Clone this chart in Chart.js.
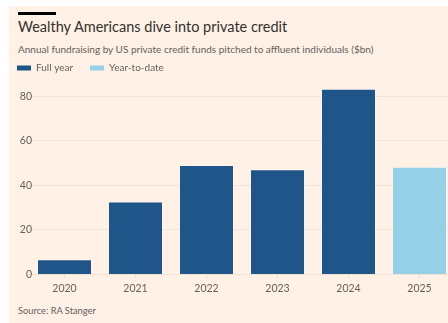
<!DOCTYPE html>
<html>
<head>
<meta charset="utf-8">
<script src="https://cdn.jsdelivr.net/npm/chart.js@4"></script>
<style>
  html, body { margin: 0; padding: 0; background: #fff; overflow: hidden; width: 448px; height: 323px; }
  #panel { position: absolute; left: 9px; top: 6px; width: 460px; height: 317px; background: #fff1e5; }
  #bar { position: absolute; left: 18px; top: 12px; width: 38px; height: 3px; background: #000; }
  #title { position: absolute; left: 18px; top: 18px; font: 14.5px Lato, sans-serif; color: #33302e; white-space: nowrap; }
  #subtitle { position: absolute; left: 18px; top: 43px; font: 10px Lato, sans-serif; color: #66605c; white-space: nowrap; }
  #source { position: absolute; left: 18px; top: 305px; font: 9.3px Lato, sans-serif; color: #66605c; white-space: nowrap; }
  #wrap { position: absolute; left: 0; top: 46px; width: 455px; height: 253px; }
</style>
</head>
<body>
<div id="panel"></div>
<div id="bar"></div>
<div id="title">Wealthy Americans dive into private credit</div>
<div id="subtitle">Annual fundraising by US private credit funds pitched to affluent individuals ($bn)</div>
<div id="wrap"><canvas id="chart"></canvas></div>
<div id="source">Source: RA Stanger</div>
<script>
// fundraising, $bn
const years = ['2020', '2021', '2022', '2023', '2024', '2025']
const fullYear = [6.8, 32.7, 49.1, 47.3, 83.4, null]
const yearToDate = [null, null, null, null, null, 48.4]
const yTicks = [0, 20, 40, 60, 80]

const fontFamily = 'Lato, sans-serif'

const chart = new Chart(document.getElementById('chart'), {
  type: 'bar',
  data: {
    labels: years,
    datasets: [
      { label: 'Full year', data: fullYear, backgroundColor: '#1f5589', borderColor: 'rgba(255,255,255,0.35)', borderWidth: 1 },
      { label: 'Year-to-date', data: yearToDate, backgroundColor: '#95d0e6', borderColor: 'rgba(255,255,255,0.35)', borderWidth: 1 }
    ]
  },
  options: {
    responsive: true,
    maintainAspectRatio: false,
    animation: false,
    categoryPercentage: 1,
    barPercentage: 0.775,
    layout: { padding: 0 },
    plugins: {
      tooltip: { enabled: false },
      legend: {
        position: 'top',
        align: 'start',
        labels: {
          boxWidth: 14,
          boxHeight: 5,
          padding: 17,
          color: '#66605c',
          font: { family: fontFamily, size: 10 },
          generateLabels(c) {
            return c.data.datasets.map((ds, i) => ({
              text: ds.label,
              fillStyle: ds.backgroundColor,
              strokeStyle: ds.backgroundColor,
              lineWidth: 0,
              fontColor: '#66605c',
              datasetIndex: i
            }))
          }
        }
      }
    },
    scales: {
      x: {
        stacked: true,
        grid: { offset: false, drawOnChartArea: false, color: '#eadbd0', tickLength: 4 },
        border: { display: false },
        ticks: { color: '#66605c', padding: 4, font: { family: fontFamily, size: 10.5 } }
      },
      y: {
        stacked: true,
        min: 0,
        max: 86,
        afterBuildTicks(scale) { scale.ticks = yTicks.map(v => ({ value: v })) },
        afterFit(scale) {
          scale.width = 29
          // let the labels run a few px into the plot, no clipping
          scale._computeLabelArea = () => undefined
        },
        grid: { color: '#f3e2d6', drawTicks: false },
        border: { display: false },
        ticks: { color: '#66605c', padding: -3, font: { family: fontFamily, size: 10.5 } }
      }
    }
  }
})
</script>
</body>
</html>
